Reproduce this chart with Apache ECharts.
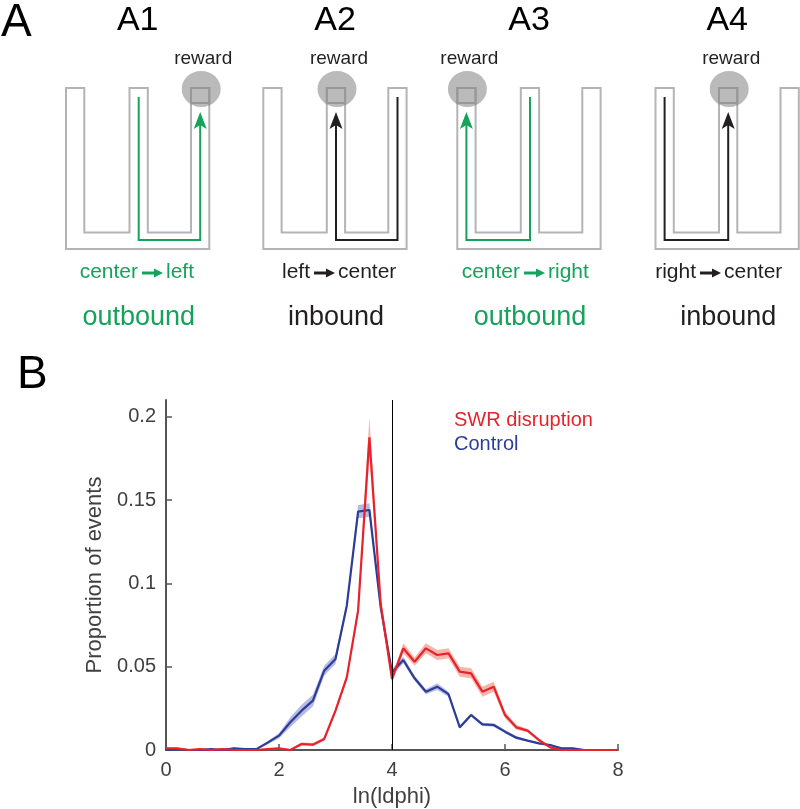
<!DOCTYPE html>
<html><head><meta charset="utf-8">
<script src="https://cdn.jsdelivr.net/npm/echarts@6/dist/echarts.min.js"></script>
<style>html,body{margin:0;padding:0;background:#fff}#c{width:800px;height:809px}</style>
</head><body><div id="c"></div>
<script>
// ---------- data ----------
var xBins = [0,0.2,0.4,0.6,0.8,1.0,1.2,1.4,1.6,1.8,2.0,2.2,2.4,2.6,2.8,3.0,3.2,3.4,3.6,3.8,4.0,4.2,4.4,4.6,4.8,5.0,5.2,5.4,5.6,5.8,6.0,6.2,6.4,6.6,6.8,7.0,7.2,7.4,7.6,7.8,8.0];
var swrMean = [0.001,0.001,0,0.0005,0,0.0005,0,0,0,0.0005,0.001,0,0.0036,0.0032,0.0066,0.0236,0.0436,0.0836,0.1876,0.0876,0.0426,0.061,0.053,0.061,0.057,0.058,0.047,0.046,0.035,0.038,0.021,0.0136,0.0116,0.006,0.0016,0,0,0,0,0,0];
var swrErr  = [0.0005,0.0005,0.0005,0.0005,0.0005,0.0005,0.0005,0.0005,0.0005,0.0005,0.0005,0.0005,0.001,0.001,0.001,0.0015,0.002,0.003,0.012,0.003,0.002,0.003,0.0025,0.003,0.003,0.003,0.003,0.003,0.003,0.003,0.002,0.0015,0.001,0.001,0.0005,0.0005,0.0005,0.0005,0.0005,0.0005,0.0005];
var ctlMean = [0,0.0005,0,0,0.0005,0,0.001,0.0005,0.0005,0.0044,0.0086,0.0166,0.0236,0.0296,0.0476,0.0546,0.0866,0.143,0.144,0.0856,0.0466,0.054,0.043,0.035,0.038,0.0335,0.0136,0.021,0.0154,0.015,0.011,0.0074,0.0056,0.004,0.003,0.001,0.001,0,0,0,0];
var ctlErr  = [0.0005,0.0005,0.0005,0.0005,0.0005,0.0005,0.0005,0.0005,0.0005,0.001,0.0015,0.003,0.0035,0.0035,0.003,0.003,0.002,0.004,0.004,0.002,0.002,0.002,0.0015,0.0015,0.002,0.0015,0.001,0.001,0.001,0.001,0.001,0.001,0.0005,0.0005,0.0005,0.0005,0.0005,0.0005,0.0005,0.0005,0.0005];
var yTicks = [0,0.05,0.1,0.15,0.2];
var xTicks = [0,2,4,6,8];
var seriesNames = ['SWR disruption','Control'];
var thresholdX = 4;

var panelTitles = ['A1','A2','A3','A4'];
var fromWords = ['center','left','center','right'];
var toWords = ['left','center','right','center'];
var directions = ['outbound','inbound','outbound','inbound'];
var rewardArm = [2,1,0,1];
var startArm = [1,2,1,0];

// ---------- styles ----------
var RED = '#e8222d', BLUE = '#2c3d96';
var GREEN = '#14a35a', INK = '#231f20', MAZE = '#b4b4b4';
var FONT = '"Liberation Sans", Arial, Helvetica, sans-serif';

function pairs(m){ return xBins.map(function(x,i){return [x,m[i]];}); }
function bandItems(m,e){ return xBins.map(function(x,i){return [x,Math.max(0,m[i]-e[i]),m[i]+e[i]];}); }

function bandRenderer(fillColor){
  return function(params, api){
    if (params.dataIndex !== 0) return null;
    var n = params.dataInsideLength || xBins.length;
    var data = params.__band;
    return null;
  };
}
function makeBand(items, fillColor){
  return {
    type:'custom', silent:true, z:1,
    data:[0],
    renderItem:function(params, api){
      var up = [], lo = [];
      for (var i=0;i<items.length;i++){
        up.push(api.coord([items[i][0], items[i][2]]));
        lo.push(api.coord([items[i][0], items[i][1]]));
      }
      var pts = up.concat(lo.reverse());
      return {type:'polygon', shape:{points:pts}, style:{fill:fillColor}};
    }
  };
}

// ---------- panel A graphics ----------
var mazeLeft = [66,263.3,457.3,655.5];
var T = 88;
var armLeft = [0,63.5,125], armW = 18.3;
var armCenter = [9.1,72.7,134.2];
var arrowCenters = [152,324,534,710];
var g = [];
g.push({type:'text',left:1,top:0,style:{text:'A',font:'46px '+FONT,fill:'#000'}});
g.push({type:'text',left:17,top:352,style:{text:'B',font:'46px '+FONT,fill:'#000'}});
for (var k=0;k<4;k++){
  var L = mazeLeft[k], cx = L+71.7;
  var col = (k%2===0)?GREEN:INK;
  g.push({type:'text',x:cx,y:21,style:{text:panelTitles[k],font:'34px '+FONT,fill:'#000',align:'center',verticalAlign:'middle'}});
  var rc = L+armCenter[rewardArm[k]];
  g.push({type:'text',x:rc+3,y:59,style:{text:'reward',font:'19px '+FONT,fill:INK,align:'center',verticalAlign:'middle'}});
  var pts = [[0,0],[18.3,0],[18.3,144.5],[63.5,144.5],[63.5,0],[81.8,0],[81.8,144.5],[125,144.5],[125,0],[143.3,0],[143.3,161],[0,161]].map(function(p){return [L+p[0],T+p[1]];});
  g.push({type:'polygon',shape:{points:pts},style:{fill:'none',stroke:MAZE,lineWidth:2}});
  var ra = L+armLeft[rewardArm[k]];
  g.push({type:'rect',shape:{x:ra,y:T,width:armW,height:15},style:{fill:'none',stroke:MAZE,lineWidth:2}});
  g.push({type:'ellipse',shape:{cx:rc+1,cy:T+1,rx:19.5,ry:18},style:{fill:'rgba(130,130,130,0.55)'}});
  var sx = L+armCenter[startArm[k]];
  g.push({type:'polyline',shape:{points:[[sx,97],[sx,240],[rc,240],[rc,125]]},style:{fill:'none',stroke:col,lineWidth:2}});
  g.push({type:'polygon',shape:{points:[[rc,112],[rc+6.5,129],[rc,125],[rc-6.5,129]]},style:{fill:col}});
  var ac = arrowCenters[k];
  g.push({type:'text',x:ac-14,y:272,style:{text:fromWords[k],font:'21px '+FONT,fill:col,align:'right',verticalAlign:'middle'}});
  g.push({type:'text',x:ac+14,y:272,style:{text:toWords[k],font:'21px '+FONT,fill:col,align:'left',verticalAlign:'middle'}});
  g.push({type:'line',shape:{x1:ac-10,y1:273,x2:ac+3,y2:273},style:{stroke:col,lineWidth:3}});
  g.push({type:'polygon',shape:{points:[[ac+11,273],[ac+2,268.5],[ac+2,277.5]]},style:{fill:col}});
  g.push({type:'text',x:cx+1,y:318,style:{text:directions[k],font:'27px '+FONT,fill:col,align:'center',verticalAlign:'middle'}});
}

// ---------- chart ----------
var chart = echarts.init(document.getElementById('c'), null, {renderer:'canvas'});
var axisCol = '#555555', labCol = '#404040';
chart.setOption({
  animation:false,
  backgroundColor:'#fff',
  graphic:g,
  grid:{left:166,right:182,top:400,bottom:59,containLabel:false},
  legend:{
    orient:'vertical',left:444,top:405,itemGap:4,itemWidth:0,itemHeight:20,
    selectedMode:false,
    data:[{name:seriesNames[0],icon:'none',textStyle:{color:RED}},{name:seriesNames[1],icon:'none',textStyle:{color:BLUE}}],
    textStyle:{fontSize:20,fontFamily:FONT,padding:0}
  },
  xAxis:{
    type:'value',min:0,max:8,interval:2,
    name:'ln(ldphi)',nameLocation:'middle',nameGap:36,
    nameTextStyle:{fontSize:22,fontFamily:FONT,color:labCol},
    axisLine:{lineStyle:{color:axisCol,width:2}},
    axisTick:{inside:true,length:6,lineStyle:{color:axisCol,width:1.5},customValues:xTicks},
    axisLabel:{fontSize:20,fontFamily:FONT,color:labCol,margin:10,customValues:xTicks},
    splitLine:{show:false}
  },
  yAxis:{
    type:'value',min:0,max:0.21,
    name:'Proportion of events',nameLocation:'middle',nameGap:54,nameRotate:90,
    nameTextStyle:{fontSize:22,fontFamily:FONT,color:labCol},
    axisLine:{show:true,lineStyle:{color:axisCol,width:2}},
    axisTick:{show:true,inside:true,length:6,lineStyle:{color:axisCol,width:1.5},customValues:yTicks},
    axisLabel:{fontSize:20,fontFamily:FONT,color:labCol,margin:10,customValues:yTicks},
    splitLine:{show:false}
  },
  series:[
    makeBand(bandItems(swrMean,swrErr),'rgba(236,120,100,0.55)'),
    makeBand(bandItems(ctlMean,ctlErr),'rgba(110,120,200,0.5)'),
    {name:seriesNames[1],type:'line',data:pairs(ctlMean),symbol:'none',lineStyle:{color:BLUE,width:2.2},itemStyle:{color:BLUE},z:3},
    {name:seriesNames[0],type:'line',data:pairs(swrMean),symbol:'none',lineStyle:{color:RED,width:2.2},itemStyle:{color:RED},z:4,
      markLine:{silent:true,symbol:'none',label:{show:false},lineStyle:{color:'#000',width:1,type:'solid'},data:[{xAxis:thresholdX}]}}
  ]
});
</script></body></html>
